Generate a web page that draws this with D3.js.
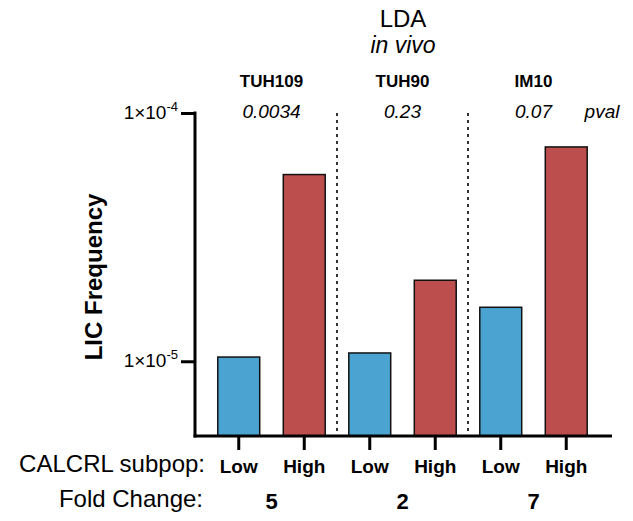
<!DOCTYPE html>
<html>
<head>
<meta charset="utf-8">
<title>LDA in vivo</title>
<script src="https://d3js.org/d3.v7.min.js"></script>
<style>
  body { margin: 0; background: #fff; }
  text { font-family: "Liberation Sans", Arial, sans-serif; fill: #000; }
</style>
</head>
<body>
<div id="chart"></div>
<script>
// data
var models = ["TUH109", "TUH90", "IM10"]
var pvals = ["0.0034", "0.23", "0.07"]
var foldChange = ["5", "2", "7"]
var subpops = ["Low", "High"]
var bars = ["TUH109-Low", "TUH109-High", "TUH90-Low", "TUH90-High", "IM10-Low", "IM10-High"]
var licFreq = [1.04e-5, 5.65e-5, 1.08e-5, 2.12e-5, 1.65e-5, 7.3e-5]
var yTicks = [1e-4, 1e-5]
var yTickLabels = ["-4", "-5"]

var width = 633, height = 521
var colors = {Low: "#4ba3d1", High: "#bc4e4e"}

var svg = d3.select("#chart").append("svg")
    .attr("width", width)
    .attr("height", height)

var x = d3.scaleBand()
    .domain(bars)
    .range([206, 599])
    .paddingInner(0.36)
    .paddingOuter(0.18)

var y = d3.scaleLog()
    .domain([5e-6, 1e-4])
    .range([436, 113])

// bars
svg.selectAll("rect.bar")
  .data(licFreq)
  .enter()
  .append("rect")
    .attr("class", "bar")
    .attr("x", function(d, i) { return x(bars[i]) })
    .attr("y", function(d) { return y(d) })
    .attr("width", x.bandwidth())
    .attr("height", function(d) { return 436 - y(d) })
    .style("fill", function(d, i) { return colors[subpops[i % 2]] })
    .style("stroke", "#111")
    .style("stroke-width", 1.5)

// dotted separators between models
for (var g = 1; g < models.length; g++) {
    var sx = (x(bars[2*g - 1]) + x.bandwidth() + x(bars[2*g])) / 2
    svg.append("line")
        .attr("x1", sx).attr("x2", sx)
        .attr("y1", y(1e-4)).attr("y2", 436)
        .style("stroke", "#000")
        .style("stroke-width", 1.6)
        .style("stroke-dasharray", "3,4")
}

// y axis
var yAxis = svg.append("g")
    .attr("transform", "translate(195,0)")
    .call(d3.axisLeft(y).tickValues(yTicks).tickSize(14).tickFormat(""))
yAxis.select(".domain").remove()
yAxis.selectAll(".tick line").style("stroke", "#000").style("stroke-width", 3)
svg.append("line")
    .attr("x1", 195).attr("x2", 195)
    .attr("y1", y(1e-4) - 1.5).attr("y2", 437.5)
    .style("stroke", "#000").style("stroke-width", 3)

yTicks.forEach(function(t, i) {
    var lab = svg.append("text")
        .attr("x", 178)
        .attr("y", y(t) + 6)
        .attr("text-anchor", "end")
        .style("font-size", "19px")
    lab.append("tspan").text("1×10")
    lab.append("tspan").attr("dy", -8).style("font-size", "13px").text(yTickLabels[i])
})

svg.append("text")
    .attr("transform", "translate(102,277) rotate(-90)")
    .attr("text-anchor", "middle")
    .style("font-size", "24px")
    .style("font-weight", "bold")
    .text("LIC Frequency")

// x axis
var xAxis = svg.append("g")
    .attr("transform", "translate(0,436)")
    .call(d3.axisBottom(x).tickSize(14).tickFormat(function(d, i) { return subpops[i % 2] }))
xAxis.select(".domain").remove()
xAxis.selectAll(".tick line").style("stroke", "#000").style("stroke-width", 3)
xAxis.selectAll(".tick text")
    .attr("y", 37)
    .attr("dy", null)
    .style("font-family", "'Liberation Sans', Arial, sans-serif")
    .style("font-size", "19px")
    .style("font-weight", "bold")
    .style("fill", "#000")
svg.append("line")
    .attr("x1", 193.5).attr("x2", 612)
    .attr("y1", 436).attr("y2", 436)
    .style("stroke", "#000").style("stroke-width", 3)

svg.append("text")
    .attr("x", 205).attr("y", 472)
    .attr("text-anchor", "end")
    .style("font-size", "24px")
    .text("CALCRL subpop:")

svg.append("text")
    .attr("x", 203).attr("y", 507)
    .attr("text-anchor", "end")
    .style("font-size", "24px")
    .text("Fold Change:")

// per-model annotations
models.forEach(function(m, i) {
    var cx = (x(bars[2*i]) + x(bars[2*i + 1]) + x.bandwidth()) / 2
    svg.append("text")
        .attr("x", cx).attr("y", 87)
        .attr("text-anchor", "middle")
        .style("font-size", "17px")
        .style("font-weight", "bold")
        .text(m)
    svg.append("text")
        .attr("x", cx).attr("y", 118)
        .attr("text-anchor", "middle")
        .style("font-size", "19px")
        .style("font-style", "italic")
        .text(pvals[i])
    svg.append("text")
        .attr("x", cx).attr("y", 509)
        .attr("text-anchor", "middle")
        .style("font-size", "22px")
        .style("font-weight", "bold")
        .text(foldChange[i])
})

svg.append("text")
    .attr("x", 602).attr("y", 118)
    .attr("text-anchor", "middle")
    .style("font-size", "19px")
    .style("font-style", "italic")
    .text("pval")

// title
svg.append("text")
    .attr("x", 403).attr("y", 27)
    .attr("text-anchor", "middle")
    .style("font-size", "24px")
    .text("LDA")
svg.append("text")
    .attr("x", 403).attr("y", 53)
    .attr("text-anchor", "middle")
    .style("font-size", "23px")
    .style("font-style", "italic")
    .text("in vivo")
</script>
</body>
</html>
